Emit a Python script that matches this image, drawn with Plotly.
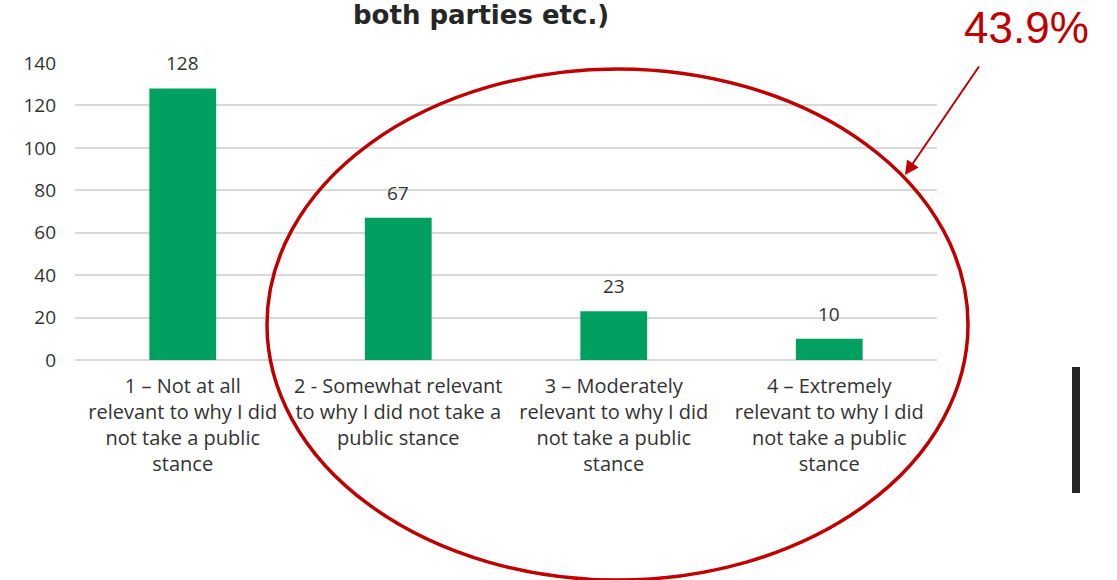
import plotly.graph_objects as go

# Survey responses: relevance of reason for not taking a public stance
categories = [
    "1 – Not at all<br>relevant to why I did<br>not take a public<br>stance",
    "2 - Somewhat relevant<br>to why I did not take a<br>public stance",
    "3 – Moderately<br>relevant to why I did<br>not take a public<br>stance",
    "4 – Extremely<br>relevant to why I did<br>not take a public<br>stance",
]
counts = [128, 67, 23, 10]
y_ticks = [0, 20, 40, 60, 80, 100, 120, 140]
title_text = "both parties etc.)"
share_text = "43.9%"

W, H = 1117, 580
L, R, T, B = 75, 180, 63, 220
PW, PH = W - L - R, H - T - B


def px(x):
    return (x - L) / PW


def py(y):
    return (H - B - y) / PH


GREEN = "#00A060"
RED = "#C00000"
TXT = "#333333"
FONT = "Open Sans"

fig = go.Figure(
    go.Bar(
        x=categories,
        y=counts,
        marker=dict(color=GREEN, line=dict(width=0)),
        width=0.31,
    )
)

# Value labels above each bar
for cat, val in zip(categories, counts):
    fig.add_annotation(
        x=cat, y=val, xref="x", yref="y",
        text=str(val),
        showarrow=False,
        yanchor="bottom",
        yshift=10,
        font=dict(size=19, color=TXT, family=FONT),
    )

fig.update_layout(
    width=W,
    height=H,
    margin=dict(l=L, r=R, t=T, b=B),
    paper_bgcolor="white",
    plot_bgcolor="white",
    showlegend=False,
    font=dict(family=FONT, color=TXT, size=19),
    xaxis=dict(
        showgrid=False,
        showline=False,
        ticks="",
        ticklabelstandoff=12,
        tickfont=dict(size=20, color=TXT, family=FONT),
    ),
    yaxis=dict(
        range=[0, 140],
        tickvals=y_ticks,
        showgrid=True,
        gridcolor="#D9D9D9",
        gridwidth=1.5,
        zeroline=True,
        zerolinecolor="#D9D9D9",
        zerolinewidth=1.5,
        showline=False,
        ticks="",
        ticklen=0,
        ticklabelstandoff=18,
        tickfont=dict(size=19, color=TXT, family=FONT),
    ),
)

# Title (last line of a wrapped heading)
fig.add_annotation(
    text=f"<b>{title_text}</b>",
    xref="paper", yref="paper",
    x=px(481), y=py(15),
    xanchor="center", yanchor="middle",
    showarrow=False,
    font=dict(size=26, color="#262626", family="DejaVu Sans"),
)

# Red ellipse grouping categories 2-4
fig.add_shape(
    type="circle",
    xref="paper", yref="paper",
    x0=px(267), x1=px(968),
    y0=py(580), y1=py(69),
    line=dict(color=RED, width=3.5),
    fillcolor="rgba(0,0,0,0)",
)

# Share label and pointer arrow
fig.add_annotation(
    text=share_text,
    xref="paper", yref="paper",
    x=px(1026), y=py(28),
    xanchor="center", yanchor="middle",
    showarrow=False,
    font=dict(size=44, color=RED, family="Liberation Sans"),
)
fig.add_annotation(
    text="",
    xref="paper", yref="paper",
    x=px(905), y=py(175),
    ax=75, ay=-110,
    showarrow=True,
    arrowhead=2,
    arrowsize=1.4,
    arrowwidth=2,
    arrowcolor=RED,
)

# Dark vertical bar on the right edge
fig.add_shape(
    type="rect",
    xref="paper", yref="paper",
    x0=px(1072), x1=px(1080),
    y0=py(493), y1=py(367),
    line=dict(width=0),
    fillcolor="#262626",
)

fig.write_html("out.html")
